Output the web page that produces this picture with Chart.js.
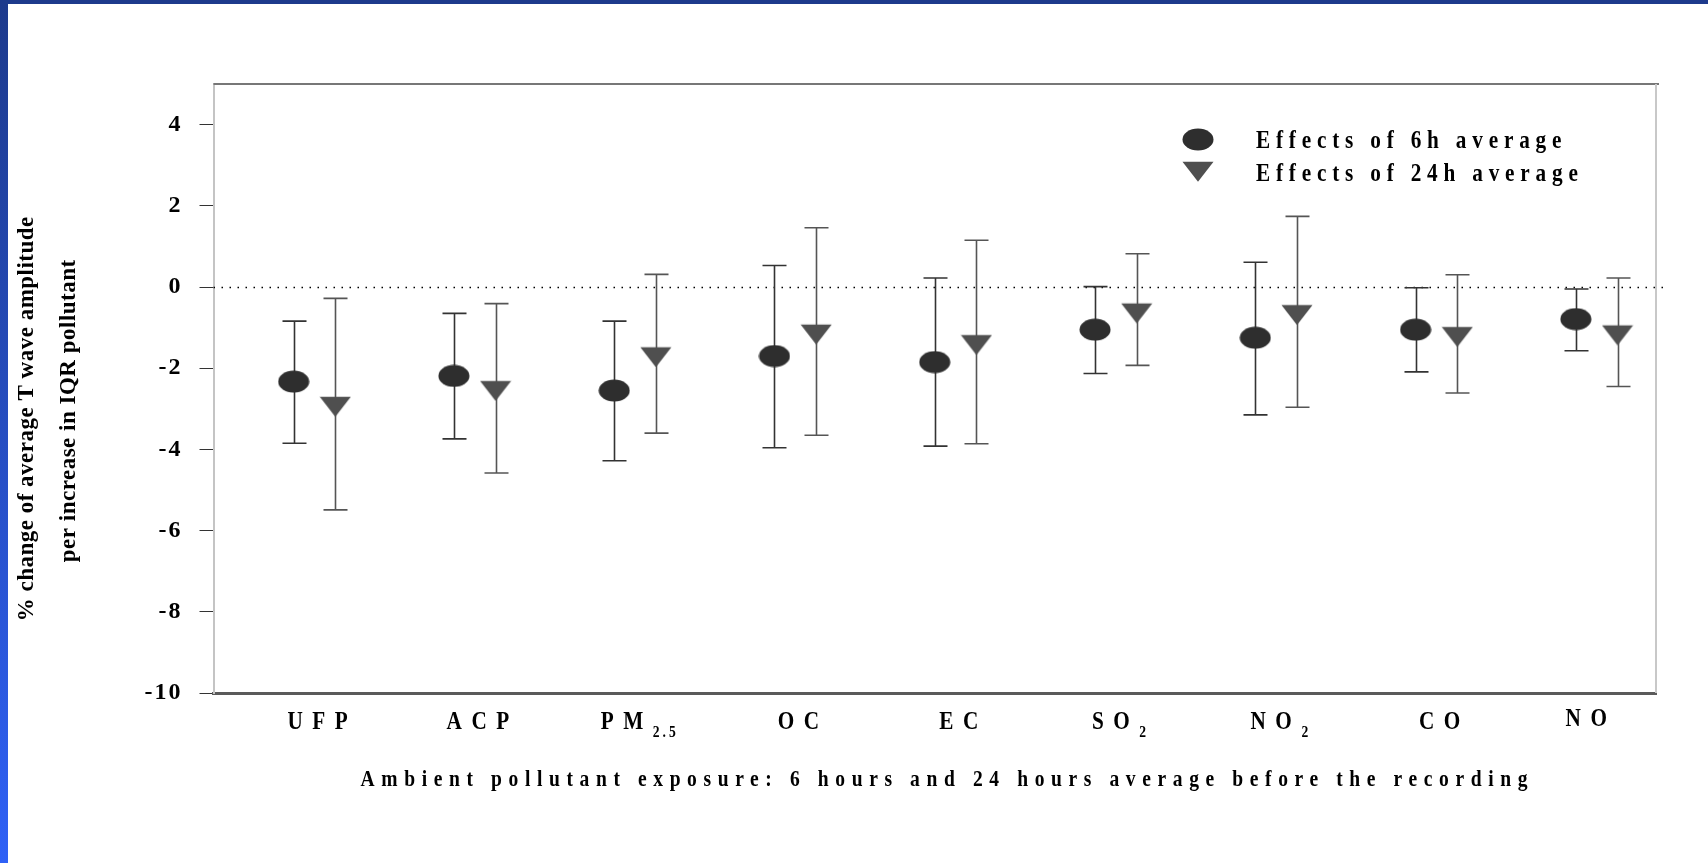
<!DOCTYPE html>
<html>
<head>
<meta charset="utf-8">
<script src="https://cdn.jsdelivr.net/npm/chart.js@4.4.1/dist/chart.umd.min.js"></script>
<style>
  html, body { margin: 0; padding: 0; background: #fff; }
  canvas { display: block; }
</style>
</head>
<body>
<canvas id="chart" width="1708" height="863"></canvas>
<script>
// pollutant names, with the subscript part kept apart
const pollutants = ['UFP', 'ACP', 'PM', 'OC', 'EC', 'SO', 'NO', 'CO', 'NO'];
const subscripts = ['', '', '2.5', '', '', '2', '2', '', ''];

// % change, 6h average (estimate, lower CI, upper CI)
const est6h = [-2.33, -2.19, -2.55, -1.70, -1.85, -1.05, -1.25, -1.05, -0.79];
const lo6h  = [-3.85, -3.74, -4.28, -3.96, -3.92, -2.13, -3.15, -2.09, -1.57];
const hi6h  = [-0.84, -0.65, -0.84, 0.53, 0.22, 0.01, 0.61, -0.02, -0.05];

// % change, 24h average
const est24h = [-2.87, -2.48, -1.65, -1.09, -1.35, -0.57, -0.61, -1.15, -1.11];
const lo24h  = [-5.49, -4.58, -3.60, -3.65, -3.86, -1.93, -2.96, -2.61, -2.45];
const hi24h  = [-0.28, -0.41, 0.31, 1.46, 1.15, 0.82, 1.74, 0.30, 0.22];

const yTicks = [-10, -8, -6, -4, -2, 0, 2, 4];

const seriesNames = ['Effects of 6h average', 'Effects of 24h average'];
const xTitle = 'Ambient pollutant exposure: 6 hours and 24 hours average before the recording';
const yTitle = ['% change of average T wave amplitude', 'per increase in IQR pollutant'];

const SERIF = '"Liberation Serif", "Times New Roman", serif';

// the last label sits a little left and higher in the original
const labelShift = [0, 0, 0, 0, 0, 0, 0, 0, -0.085];
const labelRaise = [0, 0, 0, 0, 0, 0, 0, 0, 3];

function makeEllipse(w, h, color) {
    const c = document.createElement('canvas');
    c.width = w; c.height = h;
    const g = c.getContext('2d');
    g.fillStyle = color;
    g.beginPath();
    g.ellipse(w / 2, h / 2, w / 2 - 0.5, h / 2 - 0.5, 0, 0, Math.PI * 2);
    g.fill();
    return c;
}

// downward triangle, centroid sits at the middle of the canvas
function makeTriangle(w, h, color) {
    const c = document.createElement('canvas');
    const ch = Math.ceil(h * 4 / 3);
    c.width = w; c.height = ch;
    const g = c.getContext('2d');
    const top = ch / 2 - h / 3;
    g.fillStyle = color;
    g.beginPath();
    g.moveTo(0.5, top);
    g.lineTo(w - 0.5, top);
    g.lineTo(w / 2, top + h);
    g.closePath();
    g.fill();
    return c;
}

const dot = makeEllipse(32, 23, '#2e2e2e');
const tri = makeTriangle(32, 20, '#4f4f4f');

// width on screen of a letter-spaced, horizontally squeezed string
function textWidth(ctx, text, spacing, sx) {
    ctx.letterSpacing = (spacing / sx) + 'px';
    const w = ctx.measureText(text).width * sx - spacing;
    ctx.letterSpacing = '0px';
    return w;
}

function spacedText(ctx, text, x, y, spacing, align, sx) {
    sx = sx || 1;
    const w = textWidth(ctx, text, spacing, sx);
    let left = x;
    if (align === 'center') left = x - w / 2;
    else if (align === 'right') left = x - w;
    ctx.save();
    ctx.translate(left, y);
    ctx.scale(sx, 1);
    ctx.letterSpacing = (spacing / sx) + 'px';
    ctx.textAlign = 'left';
    ctx.fillText(text, 0, 0);
    ctx.restore();
    return w;
}

const decor = {
    id: 'decor',
    beforeDraw(chart) {
        const {ctx, width, height} = chart;
        ctx.save();
        ctx.fillStyle = '#fff';
        ctx.fillRect(0, 0, width, height);
        const g = ctx.createLinearGradient(0, 0, 0, height);
        g.addColorStop(0, '#1d3a8c');
        g.addColorStop(1, '#2f61f6');
        ctx.fillStyle = g;
        ctx.fillRect(0, 0, 8, height);
        ctx.fillStyle = '#1d3a8c';
        ctx.fillRect(0, 0, width, 4);
        ctx.restore();
        // y tick labels are letter-spaced in the original
        ctx.letterSpacing = '2px';
    },
    beforeDatasetsDraw(chart) {
        const {ctx, chartArea: a, scales: {x, y}} = chart;
        ctx.letterSpacing = '0px';
        ctx.save();
        // top and right frame
        ctx.strokeStyle = '#777';
        ctx.lineWidth = 2;
        ctx.beginPath();
        ctx.moveTo(a.left, a.top);
        ctx.lineTo(a.right + 3, a.top);
        ctx.stroke();
        ctx.strokeStyle = '#c8c8c8';
        ctx.beginPath();
        ctx.moveTo(a.right, a.top);
        ctx.lineTo(a.right, a.bottom);
        ctx.stroke();
        // dotted zero line
        const y0 = Math.round(y.getPixelForValue(0)) + 0.5;
        ctx.strokeStyle = '#000';
        ctx.lineWidth = 1.3;
        ctx.setLineDash([1.5, 6.5]);
        ctx.beginPath();
        ctx.moveTo(a.left, y0);
        ctx.lineTo(a.right + 12, y0);
        ctx.stroke();
        ctx.setLineDash([]);
        // error bars
        chart.data.datasets.forEach(ds => {
            ctx.strokeStyle = ds.barColor;
            ctx.lineWidth = 1.6;
            ds.data.forEach((p, i) => {
                const px = Math.round(x.getPixelForValue(p.x)) + 0.5;
                const pl = y.getPixelForValue(ds.lo[i]);
                const ph = y.getPixelForValue(ds.hi[i]);
                ctx.beginPath();
                ctx.moveTo(px, pl); ctx.lineTo(px, ph);
                ctx.moveTo(px - 12, pl); ctx.lineTo(px + 12, pl);
                ctx.moveTo(px - 12, ph); ctx.lineTo(px + 12, ph);
                ctx.stroke();
            });
        });
        ctx.restore();
    },
    afterDraw(chart) {
        const {ctx, scales: {x}} = chart;
        ctx.save();
        ctx.fillStyle = '#000';
        ctx.textBaseline = 'alphabetic';
        const SQ = 0.85;

        // category labels with subscripts
        pollutants.forEach((name, i) => {
            const cx = x.getPixelForValue(i + 0.65 + labelShift[i]);
            const by = 729 - labelRaise[i];
            ctx.font = 'bold 25px ' + SERIF;
            let wMain = textWidth(ctx, name, 9.5, SQ);
            let wSub = 0;
            if (subscripts[i]) {
                wMain += 9.5;
                ctx.font = 'bold 16px ' + SERIF;
                wSub = textWidth(ctx, subscripts[i], 3, SQ);
            }
            const start = cx - (wMain + wSub) / 2;
            ctx.font = 'bold 25px ' + SERIF;
            spacedText(ctx, name, start, by, 9.5, 'left', SQ);
            if (subscripts[i]) {
                ctx.font = 'bold 16px ' + SERIF;
                spacedText(ctx, subscripts[i], start + wMain, by + 8, 3, 'left', SQ);
            }
        });

        // x title
        ctx.font = 'bold 23px ' + SERIF;
        spacedText(ctx, xTitle, 944, 786, 6.6, 'center', SQ);

        // y title, two rotated lines
        ctx.font = 'bold 23px ' + SERIF;
        ctx.textBaseline = 'middle';
        [[27, 419], [69, 411]].forEach((pos, k) => {
            ctx.save();
            ctx.translate(pos[0], pos[1]);
            ctx.rotate(-Math.PI / 2);
            spacedText(ctx, yTitle[k], 0, 0, 0.5, 'center', 1);
            ctx.restore();
        });

        // legend
        ctx.textBaseline = 'alphabetic';
        ctx.font = 'bold 25px ' + SERIF;
        const marks = [dot, tri];
        const rows = [[139.5, 148], [168.5, 181]];
        seriesNames.forEach((n, k) => {
            const m = marks[k];
            ctx.drawImage(m, 1198 - m.width / 2, rows[k][0] - m.height / 2);
            spacedText(ctx, n, 1256, rows[k][1], 5.8, 'left', SQ);
        });
        ctx.restore();
    }
};

const ctx = document.getElementById('chart').getContext('2d');

new Chart(ctx, {
    type: 'scatter',
    data: {
        datasets: [{
            label: seriesNames[0],
            data: est6h.map((v, i) => ({x: i + 0.5, y: v})),
            lo: lo6h,
            hi: hi6h,
            barColor: '#333',
            pointStyle: dot,
            pointRadius: 12,
            pointHoverRadius: 12
        }, {
            label: seriesNames[1],
            data: est24h.map((v, i) => ({x: i + 0.76, y: v})),
            lo: lo24h,
            hi: hi24h,
            barColor: '#555',
            pointStyle: tri,
            pointRadius: 12,
            pointHoverRadius: 12
        }]
    },
    options: {
        responsive: false,
        animation: false,
        events: [],
        layout: {
            padding: {top: 84, right: 52, left: 0, bottom: 0}
        },
        plugins: {
            legend: {display: false},
            tooltip: {enabled: false}
        },
        scales: {
            x: {
                type: 'linear',
                min: 0,
                max: 9,
                ticks: {display: false},
                grid: {display: false},
                border: {color: '#5a5a5a', width: 3},
                afterFit: s => { s.height = 170; }
            },
            y: {
                min: -10,
                max: 5,
                afterBuildTicks: s => { s.ticks = yTicks.map(v => ({value: v})); },
                afterFit: s => { s.width = 213.5; },
                grid: {drawOnChartArea: false, tickLength: 14, color: '#333', lineWidth: 1},
                border: {color: '#c4c4c4', width: 2},
                ticks: {
                    color: '#000',
                    padding: 17,
                    font: {family: SERIF, weight: 'bold', size: 24}
                }
            }
        }
    },
    plugins: [decor]
});
</script>
</body>
</html>
